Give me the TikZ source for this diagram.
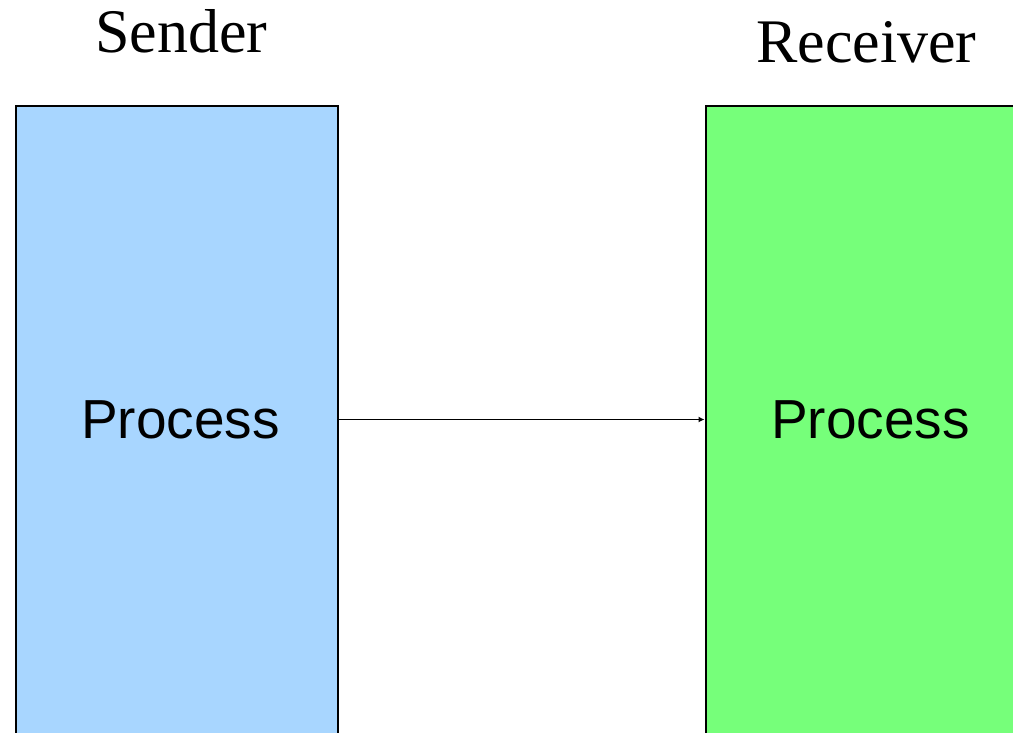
\documentclass[tikz,border=0pt]{standalone}
\usepackage{fontspec}
\setmainfont{Liberation Serif}
\newfontfamily\procfont{Liberation Sans}
\usetikzlibrary{arrows.meta}
\definecolor{sendblue}{RGB}{168,214,255}
\definecolor{recvgreen}{RGB}{118,255,122}
\tikzset{
  procbox/.style={draw=black, line width=2pt, anchor=north west, inner sep=0pt},
  title/.style={anchor=base west, inner sep=0pt, font=\fontsize{62}{70}\selectfont},
  proclabel/.style={anchor=base west, inner sep=0pt, font=\procfont\fontsize{55}{60}\selectfont},
  msgarrow/.style={line width=1.5pt, -{Latex[length=6pt,width=6pt]}}
}
\begin{document}
\begin{tikzpicture}[x=1pt,y=-1pt]
\useasboundingbox (0,0) rectangle (1013,732);
\clip (0,0) rectangle (1013,732);
\node[procbox, fill=sendblue, minimum width=322pt, minimum height=660pt] (sbox) at (14.5,105) {};
\node[procbox, fill=recvgreen, minimum width=340pt, minimum height=660pt] (rbox) at (704.5,105) {};
\node[title] (sender) at (95,52) {Sender};
\node[title] (receiver) at (756,62) {Receiver};
\node[proclabel] (sproc) at (81,438.5) {Process};
\node[proclabel] (rproc) at (771,438.5) {Process};
\coordinate (ay) at (0,419.5);
\draw[msgarrow] (sbox.east |- ay) -- (rbox.west |- ay);
\end{tikzpicture}
\end{document}
